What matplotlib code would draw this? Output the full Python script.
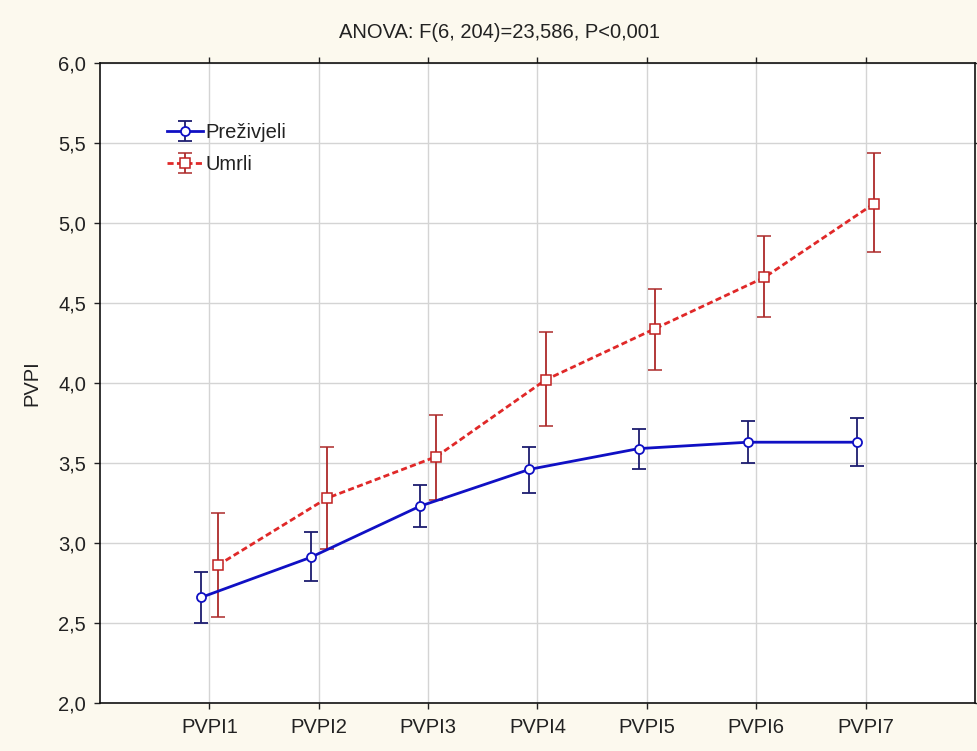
import numpy as np
import matplotlib
matplotlib.use('Agg')
import matplotlib.pyplot as plt
from matplotlib.ticker import FuncFormatter, MultipleLocator

# Data (means with upper / lower error bar ends)
categories = ['PVPI1', 'PVPI2', 'PVPI3', 'PVPI4', 'PVPI5', 'PVPI6', 'PVPI7']

preziv_mean = [2.66, 2.91, 3.23, 3.46, 3.59, 3.63, 3.63]
preziv_hi = [2.82, 3.07, 3.36, 3.60, 3.71, 3.76, 3.78]
preziv_lo = [2.50, 2.76, 3.10, 3.31, 3.46, 3.50, 3.48]

umrli_mean = [2.86, 3.28, 3.54, 4.02, 4.34, 4.66, 5.12]
umrli_hi = [3.19, 3.60, 3.80, 4.32, 4.59, 4.92, 5.44]
umrli_lo = [2.54, 2.96, 3.27, 3.73, 4.08, 4.41, 4.82]

title = 'ANOVA: F(6, 204)=23,586, P<0,001'

plt.rcParams['font.family'] = ['Liberation Sans', 'DejaVu Sans']

fig = plt.figure(figsize=(9.78, 7.51), dpi=100, facecolor='#fcf9ee')
ax = fig.add_axes([100 / 978, 48 / 751, 875 / 978, 640 / 751])
ax.set_facecolor('white')

x = np.arange(1, len(categories) + 1)
off = 0.075

pm = np.array(preziv_mean)
um = np.array(umrli_mean)
p_err = [pm - np.array(preziv_lo), np.array(preziv_hi) - pm]
u_err = [um - np.array(umrli_lo), np.array(umrli_hi) - um]

ax.errorbar(x - off, pm, yerr=p_err, color='#1010c4', ecolor='#1c1c70',
            lw=2.0, elinewidth=1.3, capsize=4.7, capthick=1.3,
            marker='o', ms=6.5, mfc='white', mec='#1010c4', mew=1.3,
            label='Preživjeli', zorder=4)
ax.errorbar(x + off, um, yerr=u_err, color='#e02828', ecolor='#ac2a2a',
            lw=2.0, ls=(0, (2.2, 1.2)), elinewidth=1.3, capsize=4.7, capthick=1.3,
            marker='s', ms=6.5, mfc='white', mec='#c02020', mew=1.1,
            label='Umrli', zorder=3)

ax.set_xlim(0, 8)
ax.set_ylim(2.0, 6.0)
ax.set_xticks(x)
ax.set_xticklabels(categories)
ax.yaxis.set_major_locator(MultipleLocator(0.5))
ax.yaxis.set_major_formatter(FuncFormatter(lambda v, p: f'{v:.1f}'.replace('.', ',')))

ax.grid(True, color='#d4d4d4', lw=1.0, zorder=0)
ax.set_axisbelow(True)
ax.tick_params(axis='both', direction='out', length=4, width=1, labelsize=14.5,
               colors='#222222', top=True, right=True, pad=6)
ax.tick_params(axis='x', pad=7)
for s in ax.spines.values():
    s.set_color('#111111')
    s.set_linewidth(1.2)

ax.set_ylabel('PVPI', fontsize=14.5, color='#222222', labelpad=12)
fig.text(500 / 978, 1 - 32 / 751, title, ha='center', va='center',
         fontsize=14.5, color='#222222')

leg = ax.legend(loc='upper left', bbox_to_anchor=(0.065, 0.922), frameon=False,
                fontsize=14.5, handlelength=1.8, handletextpad=0.1,
                labelspacing=0.65, borderpad=0)
for t in leg.get_texts():
    t.set_color('#222222')

fig.savefig('out.png', dpi=100, facecolor=fig.get_facecolor())
